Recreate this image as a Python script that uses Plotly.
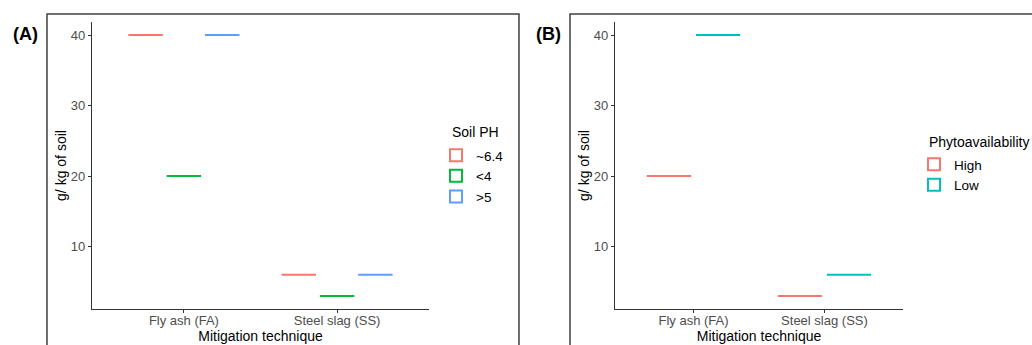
import plotly.graph_objects as go

W, H = 1032, 345

categories = ["Fly ash (FA)", "Steel slag (SS)"]

# Panel A: Soil PH groups
ph_groups = ["~6.4", "<4", ">5"]
ph_values = {
    "~6.4": [40, 6],
    "<4": [20, 3],
    ">5": [40, 6],
}
ph_colors = ["#F8766D", "#00BA38", "#619CFF"]

# Panel B: Phytoavailability groups
phyto_groups = ["High", "Low"]
phyto_values = {
    "High": [20, 3],
    "Low": [40, 6],
}
phyto_colors = ["#F8766D", "#00BFC4"]

y_ticks = [10, 20, 30, 40]

FONT = "Liberation Sans, Arial"

fig = go.Figure()

for i, g in enumerate(ph_groups):
    fig.add_trace(go.Box(
        x=categories, y=ph_values[g], name=g,
        line=dict(color=ph_colors[i], width=2), fillcolor="white",
        boxpoints=False, hoverinfo="skip",
        xaxis="x", yaxis="y", legend="legend", offsetgroup=str(i),
    ))

for i, g in enumerate(phyto_groups):
    fig.add_trace(go.Box(
        x=categories, y=phyto_values[g], name=g,
        line=dict(color=phyto_colors[i], width=2), fillcolor="white",
        boxpoints=False, hoverinfo="skip",
        xaxis="x2", yaxis="y2", legend="legend2", offsetgroup="b" + str(i),
    ))

def px_x(p):
    return p / W

def px_y(p):
    return 1 - p / H

tick_font = dict(family=FONT, size=13, color="#4D4D4D")
title_font = dict(family=FONT, size=14, color="black")

common_x = dict(
    type="category", range=[-0.6, 1.6], showline=True, linecolor="#333333", linewidth=1.2,
    ticks="outside", ticklen=3, tickcolor="#333333", tickfont=tick_font,
    ticklabelstandoff=-4,
    showgrid=False, zeroline=False, fixedrange=True, automargin=False,
    title=dict(text="Mitigation technique", font=title_font, standoff=0),
)
common_y = dict(
    range=[1.15, 41.85], tickvals=y_ticks, showline=True, linecolor="#333333", linewidth=1.2,
    ticks="outside", ticklen=3, tickcolor="#333333", tickfont=tick_font,
    showgrid=False, zeroline=False, fixedrange=True, automargin=False,
    title=dict(text="g/ kg of soil", font=dict(family=FONT, size=14, color="black"), standoff=0),
)

legend_common = dict(
    xanchor="left", yanchor="top",
    font=dict(family=FONT, size=13.5, color="black"),
    bgcolor="rgba(0,0,0,0)", tracegroupgap=0,
)

fig.update_layout(
    width=W, height=H,
    margin=dict(l=0, r=0, t=0, b=0, autoexpand=False),
    paper_bgcolor="white", plot_bgcolor="white",
    boxmode="group", boxgap=0.25, boxgroupgap=0.1,
    xaxis=dict(domain=[px_x(92), px_x(429)], anchor="y", **common_x),
    yaxis=dict(domain=[px_y(309), px_y(22)], anchor="x", **common_y),
    xaxis2=dict(domain=[px_x(615), px_x(903)], anchor="y2", **common_x),
    yaxis2=dict(domain=[px_y(309), px_y(22)], anchor="x2", **common_y),
    legend=dict(x=px_x(436), y=px_y(140), **legend_common),
    legend2=dict(x=px_x(914), y=px_y(149), **legend_common),
    shapes=[
        dict(type="rect", xref="paper", yref="paper",
             x0=px_x(47), x1=px_x(519), y0=-0.1, y1=px_y(14),
             line=dict(color="#404040", width=1.5), fillcolor="rgba(0,0,0,0)", layer="below"),
        dict(type="rect", xref="paper", yref="paper",
             x0=px_x(570), x1=1.1, y0=-0.1, y1=px_y(14),
             line=dict(color="#404040", width=1.5), fillcolor="rgba(0,0,0,0)", layer="below"),
    ],
    annotations=[
        dict(text="<b>(A)</b>", xref="paper", yref="paper", x=px_x(11), y=px_y(34),
             xanchor="left", yanchor="middle", showarrow=False,
             font=dict(family=FONT, size=18, color="black")),
        dict(text="<b>(B)</b>", xref="paper", yref="paper", x=px_x(534), y=px_y(34),
             xanchor="left", yanchor="middle", showarrow=False,
             font=dict(family=FONT, size=18, color="black")),
        dict(text="Soil PH", xref="paper", yref="paper", x=px_x(450), y=px_y(132),
             xanchor="left", yanchor="middle", showarrow=False,
             font=dict(family=FONT, size=14, color="black")),
        dict(text="Phytoavailability", xref="paper", yref="paper", x=px_x(927), y=px_y(142),
             xanchor="left", yanchor="middle", showarrow=False,
             font=dict(family=FONT, size=14, color="black")),
    ],
)

fig.write_html(
    "out.html",
    config={"displayModeBar": False},
    post_script="document.body.style.margin='0';document.body.style.padding='0';",
)
